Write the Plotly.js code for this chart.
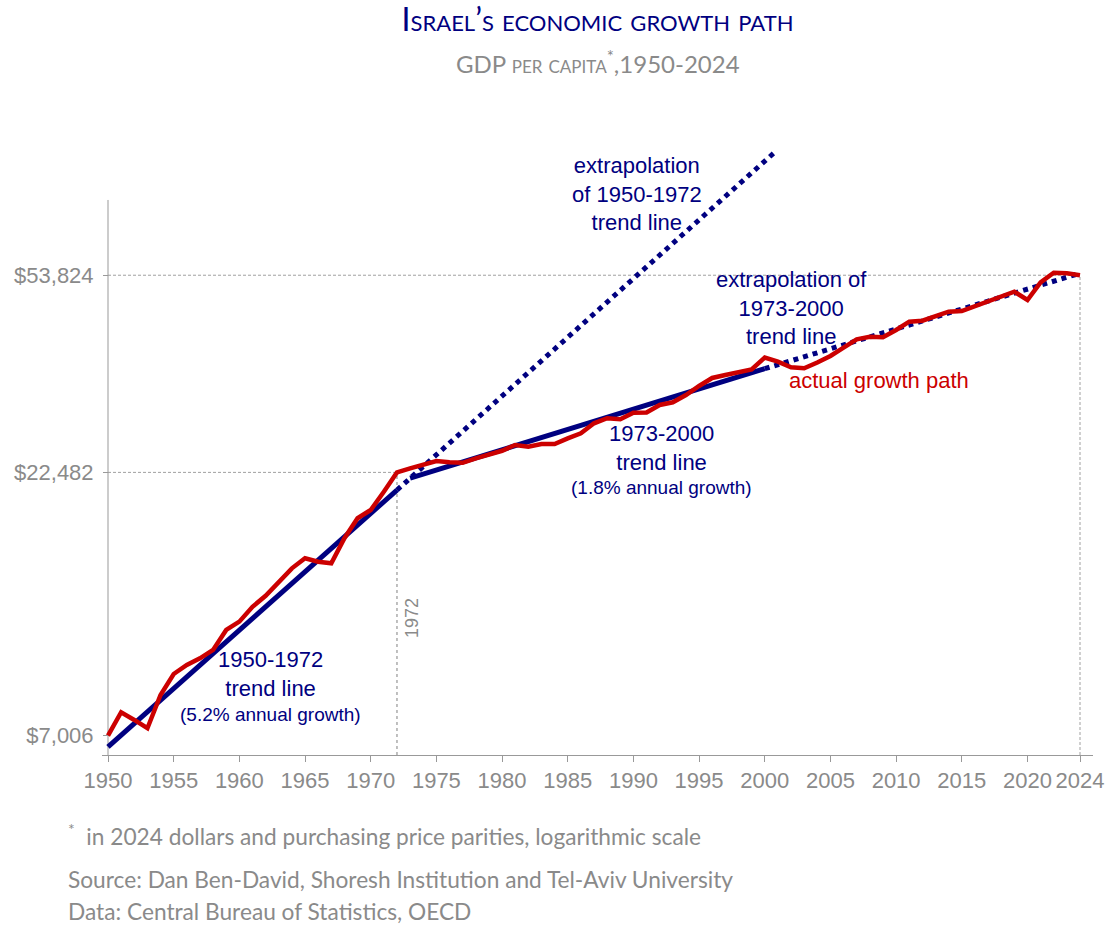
<!DOCTYPE html>
<html>
<head>
<meta charset="utf-8">
<script src="https://cdn.plot.ly/plotly-3.0.1.min.js"></script>
<style>
html,body{margin:0;padding:0;background:#fff;}
#chart{width:1111px;height:926px;}
</style>
</head>
<body>
<div id="chart"></div>
<script>
// ---- data ----
const years = [1950,1951,1952,1953,1954,1955,1956,1957,1958,1959,
  1960,1961,1962,1963,1964,1965,1966,1967,1968,1969,
  1970,1971,1972,1973,1974,1975,1976,1977,1978,1979,
  1980,1981,1982,1983,1984,1985,1986,1987,1988,1989,
  1990,1991,1992,1993,1994,1995,1996,1997,1998,1999,
  2000,2001,2002,2003,2004,2005,2006,2007,2008,2009,
  2010,2011,2012,2013,2014,2015,2016,2017,2018,2019,
  2020,2021,2022,2023,2024];
const gdpPerCapita = [7006,7772,7512,7241,8389,9207,9581,9870,10240,11190,
  11610,12400,13020,13860,14700,15370,15140,15030,16800,18350,
  19030,20640,22482,22890,23300,23640,23510,23460,23930,24390,
  24740,25380,25190,25490,25490,26140,26730,27940,28570,28440,
  29280,29300,30300,30660,31670,32960,34150,34600,35070,35460,
  37390,36700,35800,35640,36570,37640,39050,40530,41000,40890,
  42230,43810,44000,44990,45790,45940,46960,48080,49090,50040,
  48230,52160,54430,54280,53824];

const trend1Years = [1950, 1972];
const trend1Values = [6664, 20790];
const extrap1Years = [1972, 2000.86];
const extrap1Values = [20790, 93280];
const trend2Years = [1973, 2000];
const trend2Values = [21920, 35580];
const extrap2Years = [2000, 2024];
const extrap2Values = [35580, 54300];

const xTickVals = [1950,1955,1960,1965,1970,1975,1980,1985,1990,1995,2000,2005,2010,2015,2020,2024];
const yTickVals = [7006, 22482, 53824];
const yTickText = ['$7,006', '$22,482', '$53,824'];
const markYear = 1972;
const lastYear = 2024;

// ---- layout helpers (pixel -> paper) ----
const L = 102, R = 1093, T = 140, B = 755;
const PX = x => (x - L) / (R - L);
const PY = y => (B - y) / (B - T);
const xRange = [1949.543, 2024.99];
const yRange = [3.80834, 4.99104];
const yBottomVal = Math.pow(10, yRange[0]);
const yAxisTopVal = 75113;

const NAVY = '#000080';
const RED = '#cc0000';
const GRAY = '#8a8a8a';
const ARIAL = 'Liberation Sans, Arial, sans-serif';
const CAL = 'Lato, Open Sans, sans-serif';

const traces = [
  {x: trend1Years, y: trend1Values, mode: 'lines', line: {color: NAVY, width: 5}, hoverinfo: 'skip'},
  {x: extrap1Years, y: extrap1Values, mode: 'lines', line: {color: NAVY, width: 5, dash: 'dot'}, hoverinfo: 'skip'},
  {x: trend2Years, y: trend2Values, mode: 'lines', line: {color: NAVY, width: 5}, hoverinfo: 'skip'},
  {x: extrap2Years, y: extrap2Values, mode: 'lines', line: {color: NAVY, width: 5, dash: 'dot'}, hoverinfo: 'skip'},
  {x: years, y: gdpPerCapita, mode: 'lines', line: {color: RED, width: 4.5}, name: 'actual growth path'}
];

const refLine = {color: '#a0a0a0', width: 1, dash: '3px,2px'};
const shapes = [
  {type: 'line', xref: 'x', yref: 'y', x0: xTickVals[0], x1: lastYear, y0: yTickVals[2], y1: yTickVals[2], line: refLine, layer: 'below'},
  {type: 'line', xref: 'x', yref: 'y', x0: xTickVals[0], x1: markYear, y0: yTickVals[1], y1: yTickVals[1], line: refLine, layer: 'below'},
  {type: 'line', xref: 'x', yref: 'y', x0: markYear, x1: markYear, y0: yBottomVal, y1: yTickVals[1], line: {color: '#b0b0b0', width: 1.6, dash: 'dot'}, layer: 'below'},
  {type: 'line', xref: 'x', yref: 'y', x0: lastYear, x1: lastYear, y0: yBottomVal, y1: yTickVals[2], line: refLine, layer: 'below'},
  {type: 'line', xref: 'x', yref: 'y', x0: xTickVals[0], x1: xTickVals[0], y0: yBottomVal, y1: yAxisTopVal, line: {color: '#999', width: 1}, layer: 'below'}
];

const ann = (text, x, y, size, color, extra) => Object.assign({
  text, xref: 'paper', yref: 'paper', x: PX(x), y: PY(y), showarrow: false,
  xanchor: 'center', yanchor: 'middle', font: {family: ARIAL, size, color}
}, extra || {});

const FN = 22.7;
const annotations = [
  ann('GDP per capita<sup>*</sup>,1950-2024', 598, 62, 24, GRAY, {font: {family: CAL, size: 24, color: GRAY, variant: 'small-caps'}}),
  ann('extrapolation<br>of 1950-1972<br>trend line', 637, 194, 22, NAVY),
  ann('extrapolation of<br>1973-2000<br>trend line', 791, 308, 22, NAVY),
  ann('actual growth path', 879, 380, 22, RED),
  ann('1973-2000<br>trend line', 661, 448, 22, NAVY),
  ann('(1.8% annual growth)', 661, 487, 19, NAVY),
  ann('1950-1972<br>trend line', 270, 674, 22, NAVY),
  ann('(5.2% annual growth)', 270, 714, 19, NAVY),
  ann('1972', 412, 618, 18, GRAY, {textangle: -90}),
  ann('<sup>*</sup>&nbsp;&nbsp;in 2024 dollars and purchasing price parities, logarithmic scale', 66, 834, FN, GRAY, {xanchor: 'left', font: {family: CAL, size: FN, color: GRAY}}),
  ann('Source: Dan Ben-David, Shoresh Institution and Tel-Aviv University', 66, 880, FN, GRAY, {xanchor: 'left', font: {family: CAL, size: FN, color: GRAY}}),
  ann('Data: Central Bureau of Statistics, OECD', 66, 911, FN, GRAY, {xanchor: 'left', font: {family: CAL, size: FN, color: GRAY}})
];

const layout = {
  width: 1111, height: 926,
  margin: {l: L, r: 1111 - R, t: T, b: 926 - B, pad: 0},
  paper_bgcolor: '#fff', plot_bgcolor: '#fff',
  showlegend: false,
  title: {
    text: 'Israel’s economic growth path',
    x: 0.5, xref: 'paper', xanchor: 'center',
    y: 1 - 20 / 926, yref: 'container', yanchor: 'middle',
    font: {family: CAL, size: 32, color: NAVY, variant: 'small-caps'}
  },
  xaxis: {
    range: xRange, tickvals: xTickVals, ticks: 'outside', ticklen: 6, tickcolor: '#999',
    showline: true, linecolor: '#999', linewidth: 1, showgrid: false, zeroline: false,
    tickfont: {family: ARIAL, size: 22, color: GRAY}
  },
  yaxis: {
    type: 'log', range: yRange, tickvals: yTickVals, ticktext: yTickText,
    ticks: 'outside', ticklen: 5, tickcolor: '#999', showline: false, showgrid: false, zeroline: false,
    anchor: 'free', position: (xTickVals[0] - xRange[0]) / (xRange[1] - xRange[0]),
    ticklabelstandoff: 5,
    tickfont: {family: ARIAL, size: 22, color: GRAY}
  },
  shapes, annotations
};

Plotly.newPlot('chart', traces, layout, {staticPlot: true, displayModeBar: false});
</script>
</body>
</html>
